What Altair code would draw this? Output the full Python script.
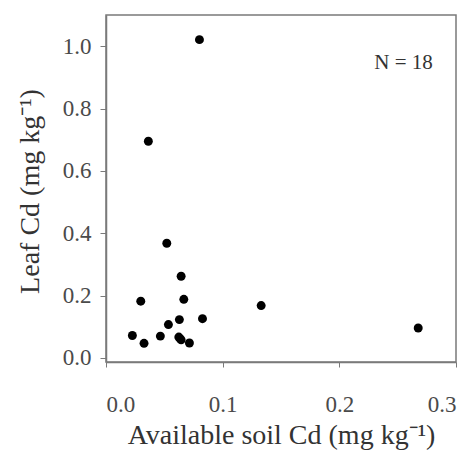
import altair as alt
import pandas as pd

# Available soil Cd vs. leaf Cd for the 18 sampled sites
soil_cd = [0.0801, 0.0363, 0.0521, 0.0644, 0.0298, 0.0667, 0.0629, 0.0827, 0.0535,
           0.0226, 0.0326, 0.0466, 0.0624, 0.0644, 0.0635, 0.0715, 0.1330, 0.2676]
leaf_cd = [1.021, 0.695, 0.368, 0.262, 0.182, 0.188, 0.123, 0.126, 0.107,
           0.072, 0.047, 0.070, 0.067, 0.058, 0.062, 0.048, 0.168, 0.096]

x_ticks = [0.0, 0.1, 0.2, 0.3]
y_ticks = [0.0, 0.2, 0.4, 0.6, 0.8, 1.0]

n_label = f"N = {len(soil_cd)}"

df = pd.DataFrame({"soil": soil_cd, "leaf": leaf_cd})

FONT = "Liberation Serif"
FRAME = "#7a7a7a"

x_enc = alt.X(
    "soil:Q",
    scale=alt.Scale(domain=[0, 0.3], nice=False, zero=False),
    axis=alt.Axis(
        title="Available soil Cd (mg kg⁻¹)",
        values=x_ticks, format=".1f", grid=False,
        tickSize=5, tickColor=FRAME, domainColor=FRAME, domainWidth=1.5,
        labelPadding=26, labelFontSize=23, labelColor="#4a4a4a", labelFont=FONT,
        titleFontSize=28, titleFont=FONT, titleFontWeight="normal", titleColor="#333333",
        titleX=175, titleY=81, titleBaseline="alphabetic",
    ),
)
y_enc = alt.Y(
    "leaf:Q",
    scale=alt.Scale(domain=[-0.013, 1.1], nice=False, zero=False),
    axis=alt.Axis(
        title="Leaf Cd (mg kg⁻¹)",
        values=y_ticks, format=".1f", grid=False,
        tickSize=6, tickColor=FRAME, domainColor=FRAME, domainWidth=1.5,
        labelPadding=9, labelFontSize=23, labelColor="#4a4a4a", labelFont=FONT,
        titleFontSize=28, titleFont=FONT, titleFontWeight="normal", titleColor="#333333",
        titleX=-68, titleY=176, titleBaseline="alphabetic", titleAngle=-90,
    ),
)

points = alt.Chart(df).mark_circle(size=80, color="black", opacity=1).encode(x=x_enc, y=y_enc)

note = alt.Chart(pd.DataFrame({"soil": [0.255], "leaf": [0.945], "t": [n_label]})).mark_text(
    font=FONT, fontSize=21, color="#333333", baseline="middle", align="center"
).encode(x="soil:Q", y="leaf:Q", text="t:N")

chart = (
    alt.layer(points, note)
    .properties(
        width=350, height=347,
        autosize=alt.AutoSizeParams(type="none"),
        padding={"left": 106, "top": 15, "right": 14, "bottom": 88},
        background="white",
    )
    .configure_view(stroke=FRAME, strokeWidth=1.5)
)

chart.save("out.html", embed_options={"renderer": "svg", "actions": False})
